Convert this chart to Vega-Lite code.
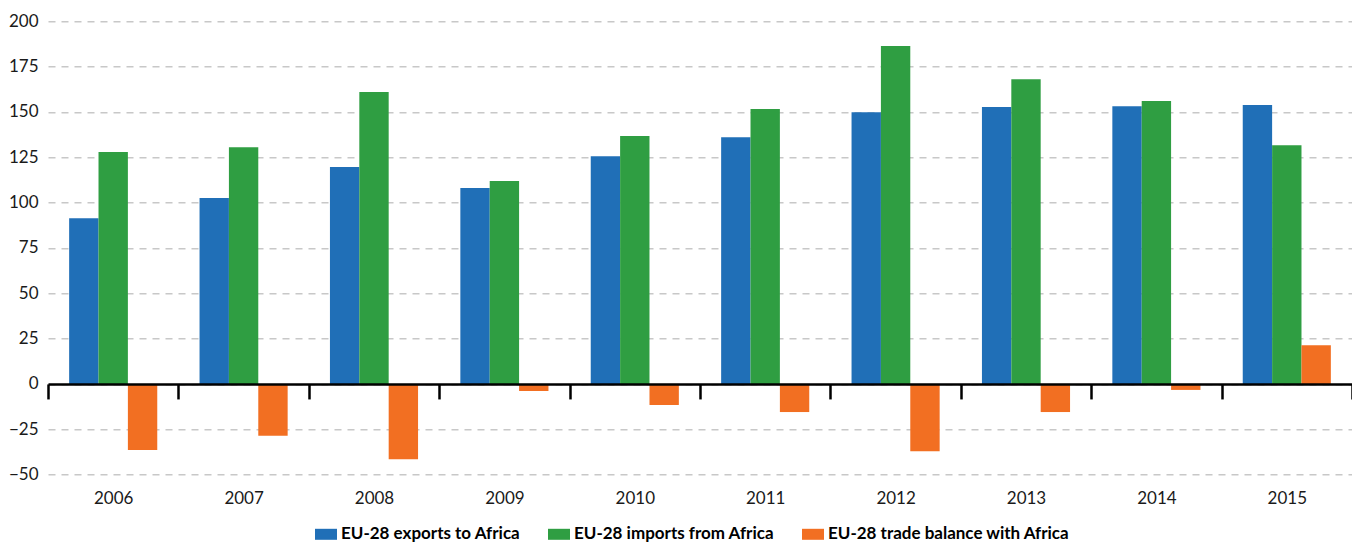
{
  "$schema": "https://vega.github.io/schema/vega-lite/v6.json",
  "width": 1304,
  "height": 453.3,
  "autosize": {"type": "none"},
  "padding": {"left": 48, "top": 21.3, "right": 0, "bottom": 67.4},
  "background": "white",
  "config": {"view": {"stroke": null}, "font": "Lato"},
  "data": {
    "values": [
      {"year": "2006", "series": "EU-28 exports to Africa", "value": 91.4},
      {"year": "2006", "series": "EU-28 imports from Africa", "value": 127.9},
      {"year": "2006", "series": "EU-28 trade balance with Africa", "value": -36.5},
      {"year": "2007", "series": "EU-28 exports to Africa", "value": 102.5},
      {"year": "2007", "series": "EU-28 imports from Africa", "value": 130.6},
      {"year": "2007", "series": "EU-28 trade balance with Africa", "value": -28.6},
      {"year": "2008", "series": "EU-28 exports to Africa", "value": 119.6},
      {"year": "2008", "series": "EU-28 imports from Africa", "value": 161.0},
      {"year": "2008", "series": "EU-28 trade balance with Africa", "value": -41.5},
      {"year": "2009", "series": "EU-28 exports to Africa", "value": 108.0},
      {"year": "2009", "series": "EU-28 imports from Africa", "value": 111.9},
      {"year": "2009", "series": "EU-28 trade balance with Africa", "value": -3.9},
      {"year": "2010", "series": "EU-28 exports to Africa", "value": 125.6},
      {"year": "2010", "series": "EU-28 imports from Africa", "value": 136.7},
      {"year": "2010", "series": "EU-28 trade balance with Africa", "value": -11.6},
      {"year": "2011", "series": "EU-28 exports to Africa", "value": 136.1},
      {"year": "2011", "series": "EU-28 imports from Africa", "value": 151.6},
      {"year": "2011", "series": "EU-28 trade balance with Africa", "value": -15.5},
      {"year": "2012", "series": "EU-28 exports to Africa", "value": 149.9},
      {"year": "2012", "series": "EU-28 imports from Africa", "value": 186.4},
      {"year": "2012", "series": "EU-28 trade balance with Africa", "value": -37.1},
      {"year": "2013", "series": "EU-28 exports to Africa", "value": 152.7},
      {"year": "2013", "series": "EU-28 imports from Africa", "value": 168.1},
      {"year": "2013", "series": "EU-28 trade balance with Africa", "value": -15.5},
      {"year": "2014", "series": "EU-28 exports to Africa", "value": 153.2},
      {"year": "2014", "series": "EU-28 imports from Africa", "value": 156.0},
      {"year": "2014", "series": "EU-28 trade balance with Africa", "value": -3.3},
      {"year": "2015", "series": "EU-28 exports to Africa", "value": 153.8},
      {"year": "2015", "series": "EU-28 imports from Africa", "value": 131.7},
      {"year": "2015", "series": "EU-28 trade balance with Africa", "value": 21.3}
    ]
  },
  "mark": {"type": "bar"},
  "encoding": {
    "x": {
      "field": "year",
      "type": "ordinal",
      "scale": {"paddingInner": 0, "paddingOuter": 0},
      "axis": {
        "title": null,
        "orient": "bottom",
        "offset": -90.66,
        "domain": true,
        "domainColor": "#000000",
        "domainWidth": 2.5,
        "ticks": true,
        "tickColor": "#000000",
        "tickWidth": 2.5,
        "tickSize": 15,
        "tickBand": "extent",
        "labelPadding": 92,
        "labelFont": "Lato",
        "labelFontSize": 17,
        "labelColor": "#1a1a1a",
        "labelAngle": 0,
        "grid": false,
        "zindex": 1
      }
    },
    "xOffset": {
      "field": "series",
      "type": "nominal",
      "sort": ["EU-28 exports to Africa", "EU-28 imports from Africa", "EU-28 trade balance with Africa"],
      "scale": {"paddingInner": 0, "paddingOuter": 0.72}
    },
    "y": {
      "field": "value",
      "type": "quantitative",
      "scale": {"domain": [-50, 200], "nice": false, "zero": false},
      "axis": {
        "title": null,
        "values": [-50, -25, 0, 25, 50, 75, 100, 125, 150, 175, 200],
        "domain": false,
        "ticks": false,
        "grid": true,
        "gridDash": [7, 6],
        "gridColor": "#c8c8c8",
        "gridWidth": 1.5,
        "labelPadding": 10,
        "labelFont": "Lato",
        "labelFontSize": 17,
        "labelColor": "#1a1a1a"
      }
    },
    "color": {
      "field": "series",
      "type": "nominal",
      "scale": {
        "domain": ["EU-28 exports to Africa", "EU-28 imports from Africa", "EU-28 trade balance with Africa"],
        "range": ["#206fb7", "#2f9e42", "#f26f22"]
      },
      "legend": {
        "title": null,
        "orient": "none",
        "direction": "horizontal",
        "legendX": 267,
        "legendY": 502,
        "symbolType": "M-1,-0.5H1V0.5H-1Z",
        "symbolSize": 484,
        "symbolStrokeWidth": 0,
        "symbolOpacity": 1,
        "labelFont": "Lato",
        "labelFontSize": 17,
        "labelFontWeight": "bold",
        "labelColor": "#000000",
        "labelOffset": 4,
        "columnPadding": 27,
        "labelLimit": 400
      }
    }
  }
}
